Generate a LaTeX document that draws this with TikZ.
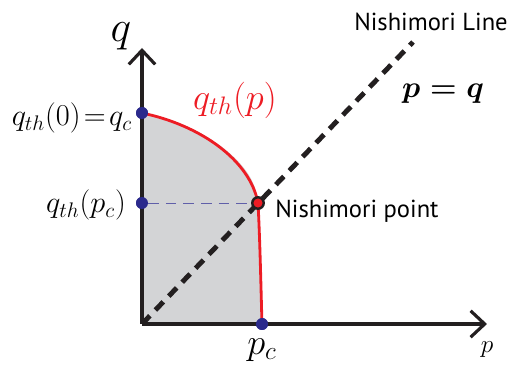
\documentclass[tikz,border=0pt]{standalone}
\usepackage{fontspec}
\setsansfont{PT Sans}
\usetikzlibrary{arrows.meta, positioning}
\definecolor{axisblack}{RGB}{35,31,32}
\definecolor{curvered}{RGB}{237,28,36}
\definecolor{dotblue}{RGB}{43,42,140}
\definecolor{regiongray}{RGB}{211,212,214}
\tikzset{
  axis/.style={line width=1.8pt, draw=axisblack, -{Straight Barb[length=8pt,width=15pt,line width=1.8pt]}},
  bluedot/.style={circle, fill=dotblue, inner sep=0pt, minimum size=6.8pt},
  nishidot/.style={circle, fill=curvered, draw=axisblack, line width=1.4pt, inner sep=0pt, minimum size=6.5pt},
  sanslabel/.style={font=\sffamily\fontsize{14}{16}\selectfont},
  mathlabel/.style={font=\fontsize{18}{20}\selectfont}
}
\begin{document}
\begin{tikzpicture}[x=0.02cm, y=-0.02cm]
        \useasboundingbox (0,0) rectangle (512,375);
        % axes and marked points
        \coordinate (O) at (142,324);
        \coordinate (qtop) at (142,48);
        \coordinate (pend) at (487,324);
        \coordinate (lineend) at (413,42);
        \node[bluedot] (qc) at (142,113) {};
        \node[bluedot] (qpc) at (142,203) {};
        \node[bluedot] (pc) at (262,324) {};
        \coordinate (N) at (258,203);
        % ordered region
        \fill[regiongray, rounded corners=6pt] (O) -- (qc.center)
              .. controls (200,125) and (250,160) .. (N)
              .. controls (260,240) and (261,290) .. (pc.center) -- cycle;
        \draw[axis] (O) -- (qtop);
        \draw[axis] (O) -- (pend);
        \draw[dotblue!75, line width=0.5pt, dash pattern=on 6pt off 4pt] (qpc) -- (N);
        \draw[axisblack, line width=2.8pt, dash pattern=on 6.5pt off 4.5pt] (O) -- (lineend);
        \draw[curvered, line width=1.6pt] (qc.center)
              .. controls (200,125) and (250,160) .. (N)
              .. controls (260,240) and (261,290) .. (pc.center);
        \node[bluedot] at (qc) {};
        \node[bluedot] at (qpc) {};
        \node[bluedot] at (pc) {};
        \node[nishidot] (Npt) at (N) {};
        % labels
        \node[font=\fontsize{23}{25}\selectfont] (qlabel) at (121,36) {$q$};
        \node[font=\fontsize{15}{17}\selectfont] (plabel) at (487,350) {$p$};
        \node[mathlabel] (qclabel) at (72,118) {$q_{th}(0)\!=\!q_c$};
        \node[mathlabel] (qpclabel) at (86,205) {$q_{th}(p_c)$};
        \node[font=\fontsize{20}{22}\selectfont, text=curvered] (qthlabel) at (235,100) {$q_{th}(p)$};
        \node[font=\fontsize{20}{22}\selectfont] (pclabel) at (262,350) {$p_c$};
        \node[font=\fontsize{18}{20}\selectfont\boldmath] (eqlabel) at (443,94) {$p=q$};
        \node[sanslabel] (linelabel) at (431,22) {Nishimori Line};
        \node[sanslabel] (pointlabel) at (357,211) {Nishimori point};
      \end{tikzpicture}
\end{document}
